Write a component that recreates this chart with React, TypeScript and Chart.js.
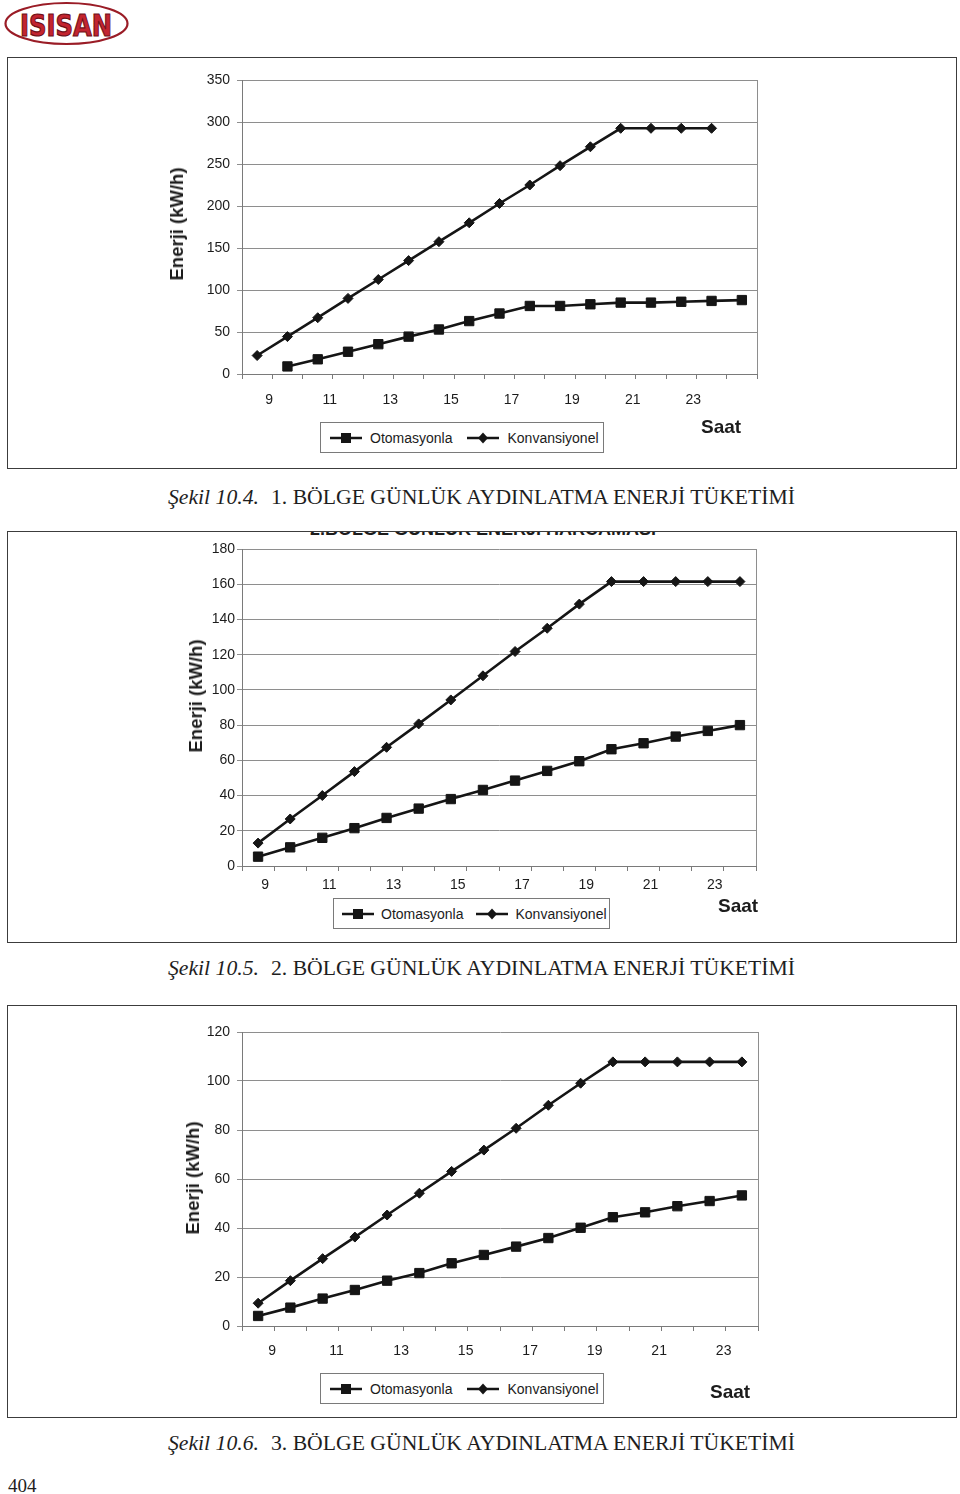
import React, { useEffect, useRef } from "react";
import { Chart, registerables } from "chart.js";

Chart.register(...registerables);

// ---------- DATA ----------
const xLabels1 = ["9", "", "11", "", "13", "", "15", "", "17", "", "19", "", "21", "", "23", "", ""];
const otomasyon1 = [null, 9, 17.5, 26.5, 35.5, 44.5, 53, 63, 72, 81, 81, 83, 85, 85, 86, 87, 88];
const konvansiyonel1 = [22, 44.5, 67, 90, 112.5, 135, 157.5, 180, 203, 225, 248, 270.5, 292.5, 292.5, 292.5, 292.5, null];
const yTicks1 = { min: 0, max: 350, step: 50 };

const xLabels2 = ["9", "", "11", "", "13", "", "15", "", "17", "", "19", "", "21", "", "23", ""];
const otomasyon2 = [5.3, 10.6, 16, 21.5, 27.3, 32.6, 38, 43.2, 48.5, 54, 59.5, 66.3, 69.7, 73.5, 76.7, 80];
const konvansiyonel2 = [13, 26.7, 40, 53.6, 67.4, 80.7, 94.3, 108, 121.8, 135, 148.7, 161.5, 161.5, 161.5, 161.5, 161.5];
const yTicks2 = { min: 0, max: 180, step: 20 };

const xLabels3 = ["9", "", "11", "", "13", "", "15", "", "17", "", "19", "", "21", "", "23", ""];
const otomasyon3 = [4.1, 7.5, 11.2, 14.7, 18.5, 21.6, 25.6, 29, 32.4, 35.9, 40.1, 44.4, 46.4, 48.9, 51, 53.3];
const konvansiyonel3 = [9.3, 18.5, 27.5, 36.3, 45.3, 54.2, 63.1, 71.8, 80.7, 90.1, 99.1, 107.8, 107.8, 107.8, 107.8, 107.8];
const yTicks3 = { min: 0, max: 120, step: 20 };

const seriesNames = ["Otomasyonla", "Konvansiyonel"];
const yTitle = "Enerji (kW/h)";
const xTitle = "Saat";
const captions = [
  ["Şekil 10.4.", "1. BÖLGE GÜNLÜK AYDINLATMA ENERJİ TÜKETİMİ"],
  ["Şekil 10.5.", "2. BÖLGE GÜNLÜK AYDINLATMA ENERJİ TÜKETİMİ"],
  ["Şekil 10.6.", "3. BÖLGE GÜNLÜK AYDINLATMA ENERJİ TÜKETİMİ"],
];
const clippedTitle2 = "2.BÖLGE GÜNLÜK ENERJİ HARCAMASI";
const pageNumber = "404";

// ---------- STYLE ----------
const LINE = "#151515";
const GRID = "#8e8e8e";
const AXIS = "#7a7a7a";
const TEXT = "#1c1c1c";
const SANS = '"Liberation Sans", Arial, sans-serif';
const SERIF = '"Liberation Serif", "Times New Roman", serif';

const rightEdge = {
  id: "rightEdge",
  beforeDatasetsDraw(chart: any) {
    const { ctx, chartArea } = chart;
    ctx.save();
    ctx.strokeStyle = GRID;
    ctx.lineWidth = 1;
    ctx.beginPath();
    const x = Math.round(chartArea.right) + 0.5;
    ctx.moveTo(x, chartArea.top);
    ctx.lineTo(x, chartArea.bottom);
    ctx.stroke();
    ctx.restore();
  },
};

type Spec = {
  labels: string[];
  oto: (number | null)[];
  konv: (number | null)[];
  y: { min: number; max: number; step: number };
  w: number;
  h: number;
  area: { left: number; top: number; right: number; bottom: number };
  yPad: number;
  xPad: number;
  labelOffset: number;
};

function LineChart({ spec, left, top }: { spec: Spec; left: number; top: number }) {
  const ref = useRef<HTMLCanvasElement | null>(null);
  useEffect(() => {
    if (!ref.current) return;
    const s = spec;
    const font = { family: SANS, size: 14 };
    const chart = new Chart(ref.current, {
      type: "line",
      data: {
        labels: s.labels,
        datasets: [
          {
            label: seriesNames[0],
            data: s.oto,
            borderColor: LINE,
            backgroundColor: LINE,
            borderWidth: 2.6,
            pointStyle: "rect",
            pointRadius: 6.6,
            pointBorderWidth: 1,
            pointBorderColor: LINE,
            pointBackgroundColor: LINE,
            tension: 0,
            fill: false,
          },
          {
            label: seriesNames[1],
            data: s.konv,
            borderColor: LINE,
            backgroundColor: LINE,
            borderWidth: 2.6,
            pointStyle: "rectRot",
            pointRadius: 5,
            pointBorderWidth: 1,
            pointBorderColor: LINE,
            pointBackgroundColor: LINE,
            tension: 0,
            fill: false,
          },
        ],
      },
      options: {
        responsive: false,
        animation: false,
        devicePixelRatio: 1,
        events: [],
        layout: {
          padding: {
            left: 0,
            top: s.area.top,
            right: s.w - s.area.right,
            bottom: 10,
          },
        },
        plugins: { legend: { display: false }, tooltip: { enabled: false }, title: { display: false } },
        scales: {
          x: {
            type: "category",
            offset: true,
            grid: {
              offset: true,
              drawOnChartArea: false,
              drawTicks: true,
              tickLength: 5,
              color: AXIS,
              lineWidth: 1,
            },
            border: { color: AXIS, width: 1 },
            ticks: {
              autoSkip: false,
              maxRotation: 0,
              minRotation: 0,
              padding: s.xPad,
              labelOffset: s.labelOffset,
              font,
              color: TEXT,
            },
            afterFit(scale: any) {
              scale.height = s.h - 10 - s.area.bottom;
            },
          },
          y: {
            min: s.y.min,
            max: s.y.max,
            ticks: { stepSize: s.y.step, padding: s.yPad, font, color: TEXT },
            grid: { color: GRID, lineWidth: 1, tickLength: 5, drawTicks: true },
            border: { color: AXIS, width: 1 },
            afterFit(scale: any) {
              scale.width = s.area.left;
            },
          },
        },
      },
      plugins: [rightEdge],
    } as any);
    return () => chart.destroy();
  }, [spec]);
  return (
    <canvas
      ref={ref}
      width={spec.w}
      height={spec.h}
      style={{ position: "absolute", left, top, width: spec.w, height: spec.h }}
    />
  );
}

function Marker({ kind }: { kind: "square" | "diamond" }) {
  return (
    <svg width={32} height={12} style={{ display: "block" }}>
      <line x1={0} y1={6} x2={32} y2={6} stroke={LINE} strokeWidth={2.5} />
      {kind === "square" ? (
        <rect x={11} y={1} width={10} height={10} fill={LINE} />
      ) : (
        <polygon points="16,0.5 21,6 16,11.5 11,6" fill={LINE} />
      )}
    </svg>
  );
}

function LegendBox({
  left,
  top,
  width,
  pad,
  gap,
  between,
}: {
  left: number;
  top: number;
  width: number;
  pad: number;
  gap: number;
  between: number;
}) {
  return (
    <div
      style={{
        position: "absolute",
        left,
        top,
        width,
        height: 31,
        boxSizing: "border-box",
        border: "1px solid #7a7a7a",
        display: "flex",
        alignItems: "center",
        paddingLeft: pad,
        fontFamily: SANS,
        fontSize: 14,
        color: TEXT,
        whiteSpace: "nowrap",
        background: "#fff",
      }}
    >
      <Marker kind="square" />
      <span style={{ marginLeft: gap }}>{seriesNames[0]}</span>
      <span style={{ marginLeft: between }}>
        <Marker kind="diamond" />
      </span>
      <span style={{ marginLeft: gap }}>{seriesNames[1]}</span>
    </div>
  );
}

function YTitle({ cx, cy }: { cx: number; cy: number }) {
  return (
    <div
      style={{
        position: "absolute",
        left: cx,
        top: cy,
        transform: "translate(-50%, -50%) rotate(-90deg)",
        fontFamily: SANS,
        fontWeight: 700,
        fontSize: 18.5,
        color: TEXT,
        whiteSpace: "nowrap",
        lineHeight: "20px",
      }}
    >
      {yTitle}
    </div>
  );
}

function XTitle({ left, cy }: { left: number; cy: number }) {
  return (
    <div
      style={{
        position: "absolute",
        left,
        top: cy - 11,
        fontFamily: SANS,
        fontWeight: 700,
        fontSize: 19,
        lineHeight: "22px",
        color: TEXT,
      }}
    >
      {xTitle}
    </div>
  );
}

function Frame({ top, height }: { top: number; height: number }) {
  return (
    <div
      style={{
        position: "absolute",
        left: 7,
        top,
        width: 950,
        height,
        boxSizing: "border-box",
        border: "1px solid #3c3c3c",
      }}
    />
  );
}

function Caption({ top, idx }: { top: number; idx: number }) {
  return (
    <div
      style={{
        position: "absolute",
        left: 168,
        top,
        fontFamily: SERIF,
        fontSize: 21.7,
        lineHeight: "24px",
        color: "#1e1e1e",
        whiteSpace: "nowrap",
      }}
    >
      <i>{captions[idx][0]}</i>
      <span style={{ marginLeft: 12 }}>{captions[idx][1]}</span>
    </div>
  );
}

const spec1: Spec = {
  labels: xLabels1,
  oto: otomasyon1,
  konv: konvansiyonel1,
  y: yTicks1,
  w: 948,
  h: 410,
  area: { left: 234, top: 22, right: 749, bottom: 316 },
  yPad: 7,
  xPad: 13,
  labelOffset: 12,
};
const spec2: Spec = {
  labels: xLabels2,
  oto: otomasyon2,
  konv: konvansiyonel2,
  y: yTicks2,
  w: 948,
  h: 410,
  area: { left: 234, top: 17, right: 748, bottom: 334 },
  yPad: 2,
  xPad: 6,
  labelOffset: 7,
};
const spec3: Spec = {
  labels: xLabels3,
  oto: otomasyon3,
  konv: konvansiyonel3,
  y: yTicks3,
  w: 948,
  h: 411,
  area: { left: 234, top: 26, right: 750, bottom: 320 },
  yPad: 7,
  xPad: 12,
  labelOffset: 14,
};

function Logo() {
  return (
    <svg width={136} height={48} style={{ position: "absolute", left: 0, top: 0 }}>
      <ellipse cx={66.5} cy={23.5} rx={61} ry={20.5} fill="#fff" stroke="#9a1c26" strokeWidth={2.2} />
      <text
        x={20}
        y={35.5}
        fontFamily='"DejaVu Sans", sans-serif'
        fontWeight={900}
        fontSize={31}
        textLength={92}
        lengthAdjust="spacingAndGlyphs"
        fill="#c3242f"
        stroke="#6e1018"
        strokeWidth={1.2}
      >
        ISISAN
      </text>
    </svg>
  );
}

export default function App() {
  return (
    <div
      style={{
        position: "absolute",
        left: 0,
        top: 0,
        width: 960,
        height: 1494,
        overflow: "hidden",
        background: "#fff",
      }}
    >
      <Logo />

      {/* Chart 1 */}
      <Frame top={57} height={412} />
      <LineChart spec={spec1} left={8} top={58} />
      <YTitle cx={176.5} cy={223.5} />
      <LegendBox left={320} top={422} width={284} pad={9} gap={8} between={15} />
      <XTitle left={701} cy={427} />
      <Caption top={485} idx={0} />

      {/* Chart 2 */}
      <Frame top={531} height={412} />
      <div style={{ position: "absolute", left: 8, top: 532, width: 948, height: 6, overflow: "hidden" }}>
        <div
          style={{
            position: "absolute",
            left: 302,
            top: -12,
            fontFamily: SANS,
            fontWeight: 700,
            fontSize: 18,
            lineHeight: "18px",
            color: TEXT,
            whiteSpace: "nowrap",
          }}
        >
          {clippedTitle2}
        </div>
      </div>
      <LineChart spec={spec2} left={8} top={532} />
      <YTitle cx={195.5} cy={696} />
      <LegendBox left={333} top={898} width={277} pad={8} gap={7} between={13} />
      <XTitle left={718} cy={906} />
      <Caption top={956} idx={1} />

      {/* Chart 3 */}
      <Frame top={1005} height={413} />
      <LineChart spec={spec3} left={8} top={1006} />
      <YTitle cx={193} cy={1177.5} />
      <LegendBox left={320} top={1373} width={284} pad={9} gap={8} between={15} />
      <XTitle left={710} cy={1392} />
      <Caption top={1431} idx={2} />

      <div
        style={{
          position: "absolute",
          left: 8,
          top: 1475,
          fontFamily: SERIF,
          fontSize: 19,
          lineHeight: "22px",
          color: "#1e1e1e",
        }}
      >
        {pageNumber}
      </div>
    </div>
  );
}
